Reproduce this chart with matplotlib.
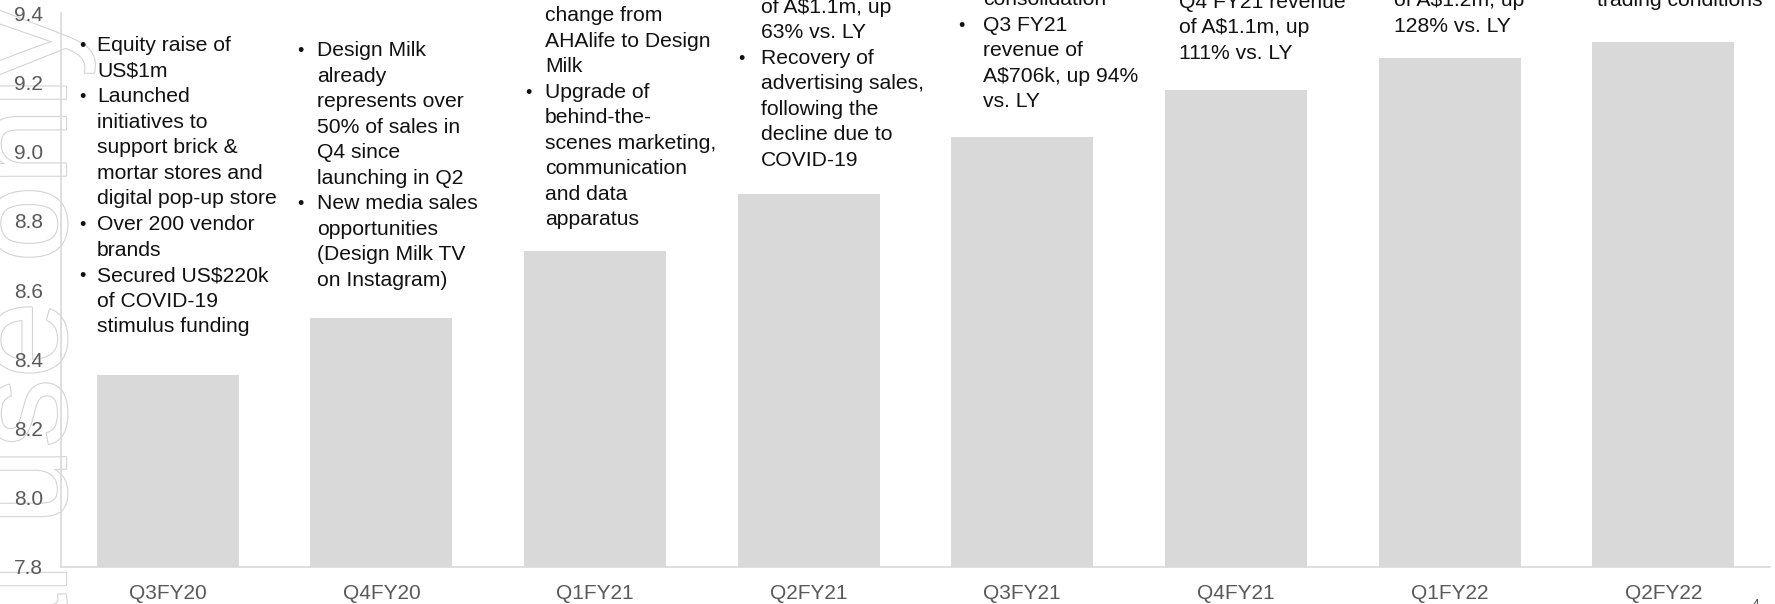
import matplotlib
matplotlib.use("Agg")
import matplotlib.pyplot as plt
import matplotlib.patheffects as pe
from matplotlib.transforms import offset_copy

# --- data -------------------------------------------------------------
quarters = ["Q3FY20", "Q4FY20", "Q1FY21", "Q2FY21",
            "Q3FY21", "Q4FY21", "Q1FY22", "Q2FY22"]
values = [8.355, 8.52, 8.713, 8.878, 9.043, 9.179, 9.271, 9.317]
yticks = [7.8, 8.0, 8.2, 8.4, 8.6, 8.8, 9.0, 9.2, 9.4]

notes = [
    ["• Equity raise of", "US$1m", "• Launched", "initiatives to",
     "support brick &", "mortar stores and", "digital pop-up store",
     "• Over 200 vendor", "brands", "• Secured US$220k", "of COVID-19",
     "stimulus funding"],
    ["• Design Milk", "already", "represents over", "50% of sales in",
     "Q4 since", "launching in Q2", "• New media sales", "opportunities",
     "(Design Milk TV", "on Instagram)"],
    ["change from", "AHAlife to Design", "Milk", "• Upgrade of",
     "behind-the-", "scenes marketing,", "communication", "and data",
     "apparatus"],
    ["of A$1.1m, up", "63% vs. LY", "• Recovery of", "advertising sales,",
     "following the", "decline due to", "COVID-19"],
    ["consolidation", "• Q3 FY21", "revenue of", "A$706k, up 94%", "vs. LY"],
    ["Q4 FY21 revenue", "of A$1.1m, up", "111% vs. LY"],
    ["of A$1.2m, up", "128% vs. LY"],
    ["trading conditions"],
]

# placement of the note blocks (category units / data units)
note_dx = [-0.331, -0.302, -0.234, -0.223, -0.184, -0.266, -0.259, -0.309]
bullet_dx = [-0.416, -0.395, -0.328, -0.330, -0.301, -0.36, -0.36, -0.40]
note_y = [9.291, 9.277, 9.378, 9.402, 9.424, 9.416, 9.421, 9.421]
LINE_PT = 18.4

BAR = "#d9d9d9"
GREY = "#595959"
plt.rcParams["font.family"] = ["Liberation Sans", "DejaVu Sans"]

fig = plt.figure(figsize=(17.75, 6.04), dpi=100)

# faint outlined watermark down the left margin
fig.text(66 / 1775, 1 - 8 / 604, "For personal use only", rotation=90,
         rotation_mode="anchor", ha="right", va="baseline", fontsize=100,
         color="white", zorder=-5,
         path_effects=[pe.Stroke(linewidth=1.6, foreground="#d4d4d4"),
                       pe.Normal()])

ax = fig.add_axes([61 / 1775, 37 / 604, 1709 / 1775, 553.6 / 604])
ax.patch.set_alpha(0)

x = range(len(quarters))
ax.bar(x, values, width=0.665, color=BAR, zorder=2)

ax.set_xlim(-0.5, len(quarters) - 0.5)
ax.set_ylim(7.8, 9.4)
ax.set_yticks(yticks)
ax.set_yticklabels([f"{v:.1f}" for v in yticks])
ax.set_xticks(list(x))
ax.set_xticklabels(quarters)
ax.tick_params(axis="y", length=0, pad=13, labelsize=15, labelcolor=GREY)
ax.tick_params(axis="x", length=0, pad=12.5, labelsize=15, labelcolor=GREY)

for side in ["top", "right"]:
    ax.spines[side].set_visible(False)
for side in ["left", "bottom"]:
    ax.spines[side].set_color(BAR)
    ax.spines[side].set_linewidth(1.2)

# bullet notes above each bar
for i, lines in enumerate(notes):
    for k, line in enumerate(lines):
        tr = offset_copy(ax.transData, fig=fig, y=-k * LINE_PT, units="points")
        bullet = line.startswith("• ")
        txt = line[2:] if bullet else line
        ax.text(i + note_dx[i], note_y[i], txt, transform=tr,
                fontsize=15.2, color="#111111", ha="left", va="baseline")
        if bullet:
            ax.text(i + bullet_dx[i], note_y[i], "•", transform=tr,
                    fontsize=13, color="#111111", ha="left", va="baseline")

# slide page number, mostly cut off
fig.text(1752 / 1775, 1 - 598 / 604, "4", fontsize=10, color=GREY,
         ha="left", va="top")

fig.savefig("out.png", dpi=100)
